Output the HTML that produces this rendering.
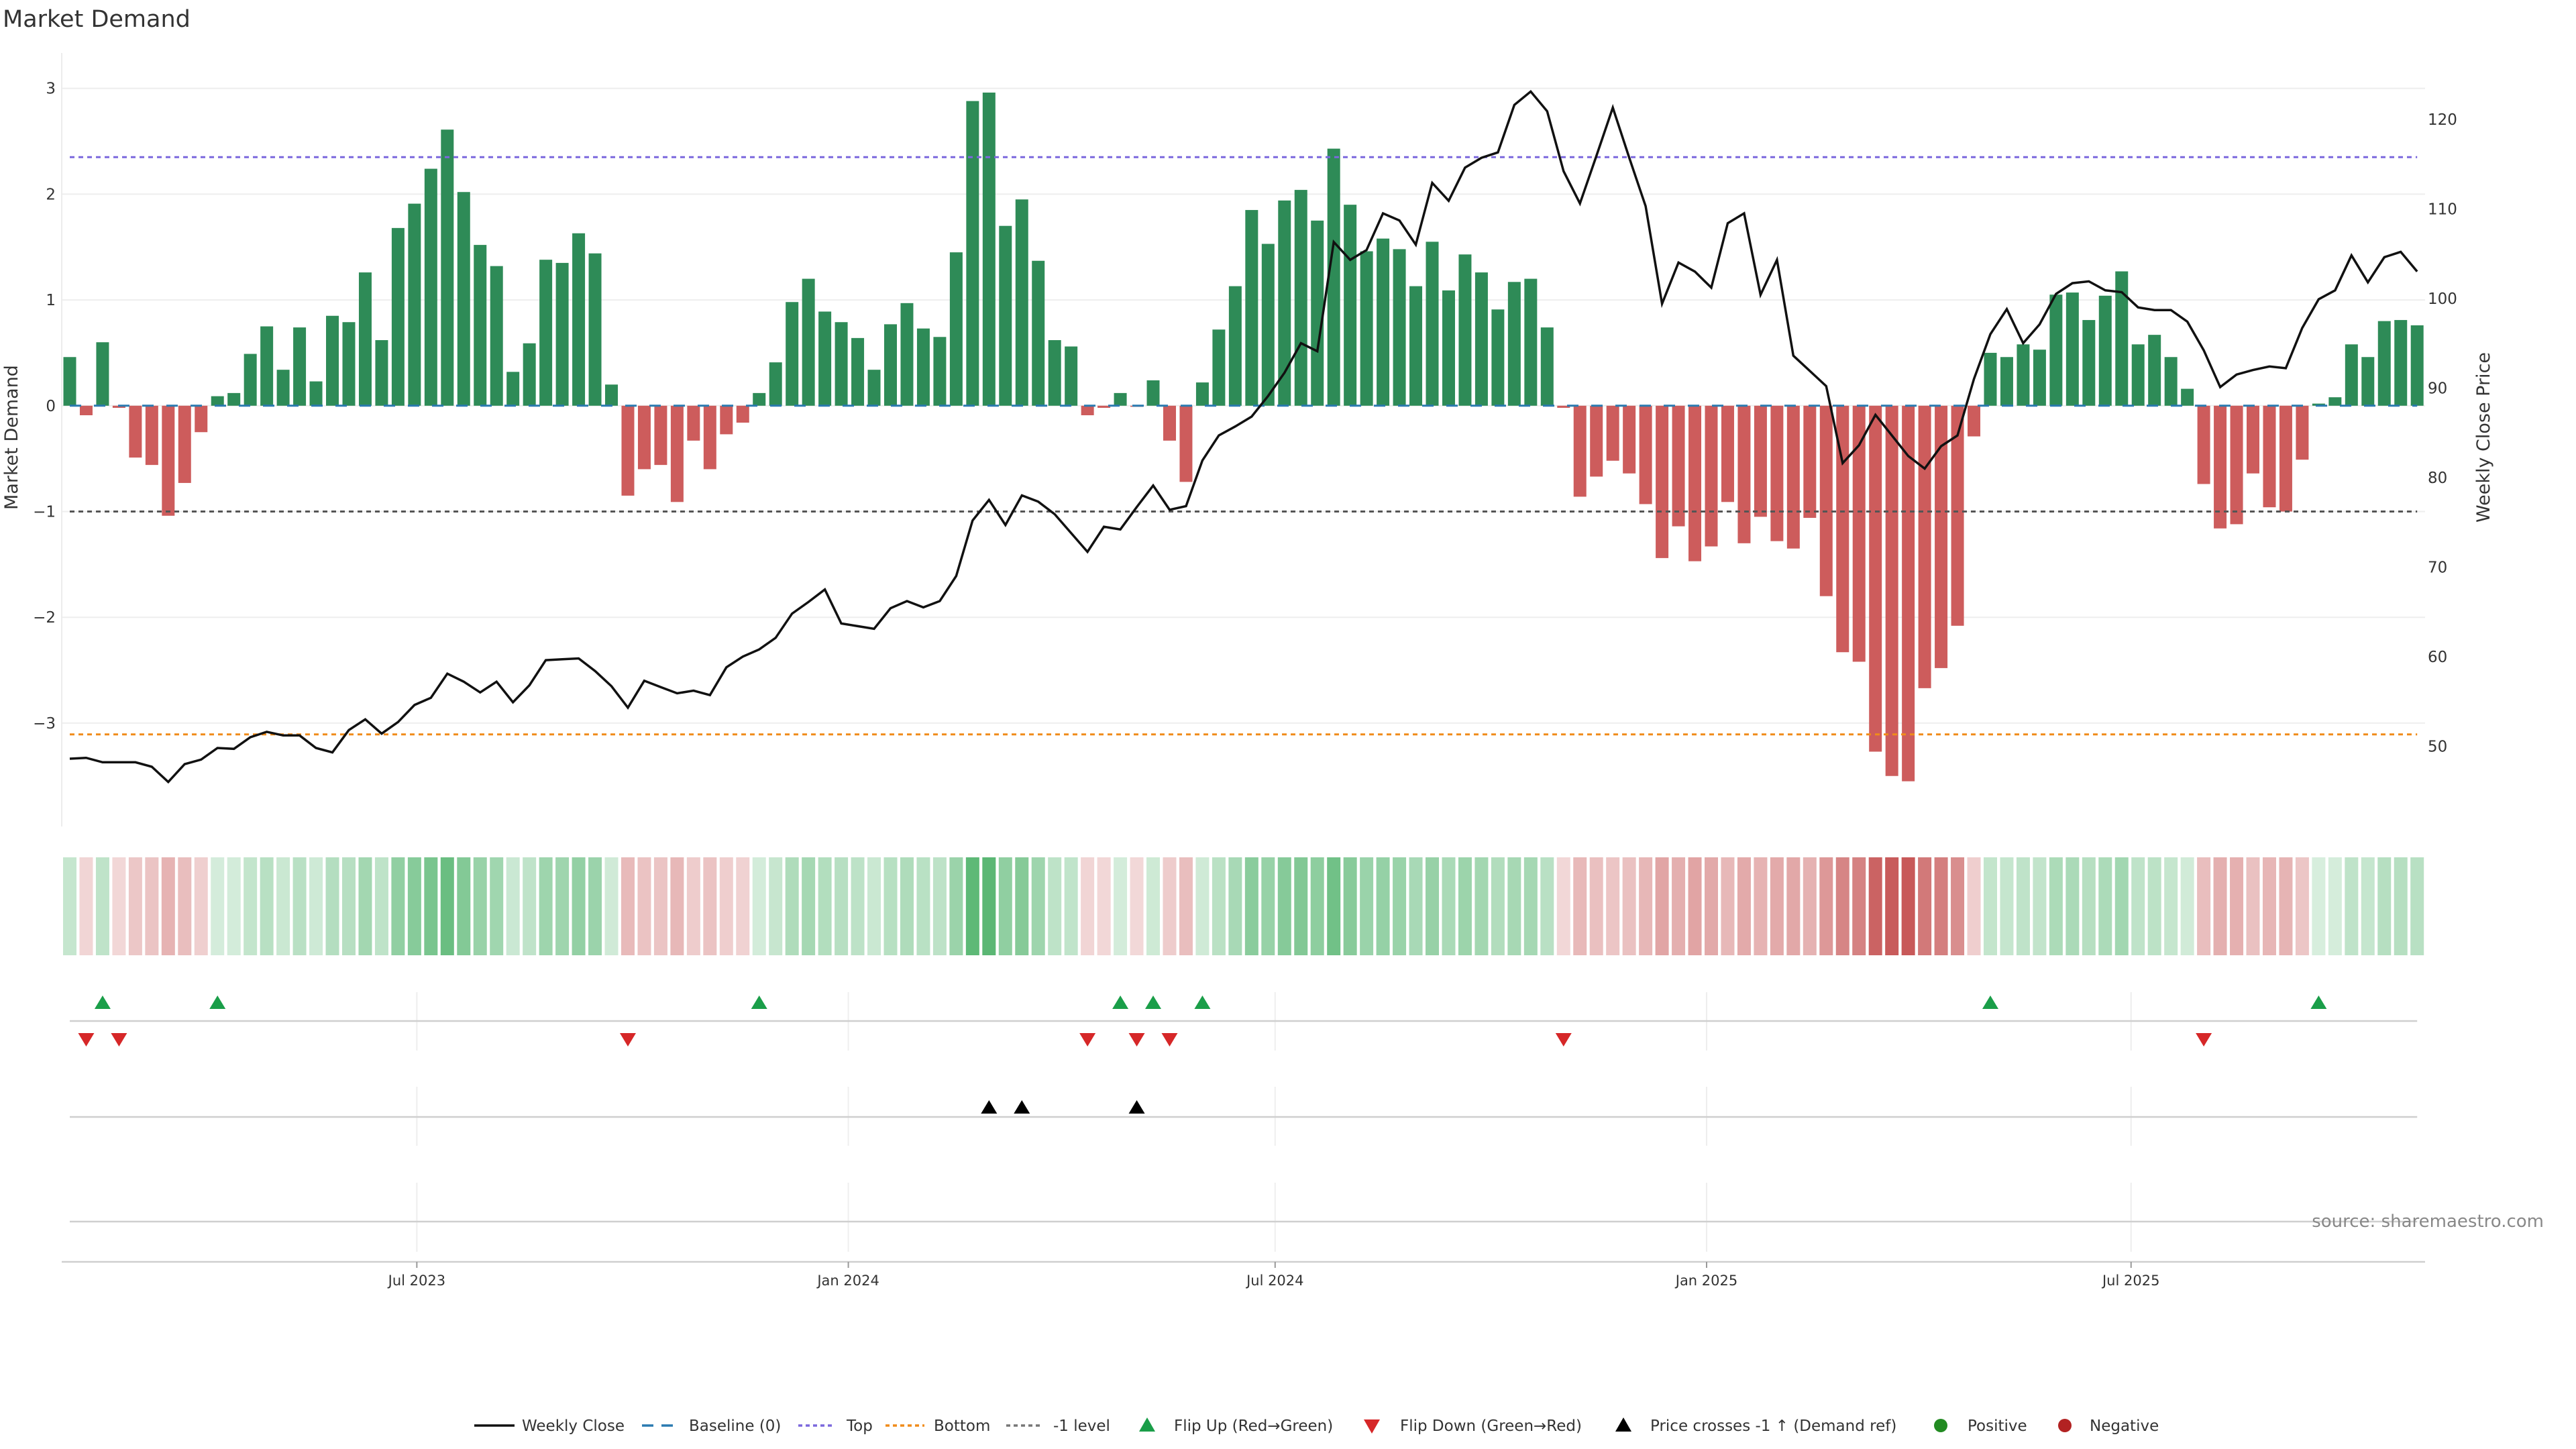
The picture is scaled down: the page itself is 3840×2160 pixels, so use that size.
<!DOCTYPE html>
<html><head><meta charset="utf-8"><title>Market Demand</title>
<style>
html,body{margin:0;padding:0;background:#fff;}
svg{display:block;font-family:"DejaVu Sans","Liberation Sans",sans-serif;}
</style></head>
<body>
<svg id="chart" xmlns="http://www.w3.org/2000/svg" width="3840" height="2160" viewBox="0 0 3840 2160">
<rect x="0" y="0" width="3840" height="2160" fill="#fff"/>
<text x="4" y="40" font-size="35" fill="#333">Market Demand</text>
<g id="grid"></g>
<line x1="92" y1="79" x2="92" y2="1232" stroke="#ececec" stroke-width="2"/>
<g id="bars"></g>
<g id="refs"></g>
<g id="price"></g>
<g id="heat"></g>
<g id="panels"></g>
<g id="axes"></g>
<text transform="translate(26,652) rotate(-90)" text-anchor="middle" font-size="27" fill="#333">Market Demand</text>
<text transform="translate(3711,652) rotate(-90)" text-anchor="middle" font-size="27" fill="#333">Weekly Close Price</text>
<text x="3792" y="1829" text-anchor="end" font-size="26" fill="#888">source: sharemaestro.com</text>
<g id="legend"></g>
</svg>
<script>
const demand = [0.46,-0.09,0.60,-0.02,-0.49,-0.56,-1.04,-0.73,-0.25,0.09,0.12,0.49,0.75,0.34,0.74,0.23,0.85,0.79,1.26,0.62,1.68,1.91,2.24,2.61,2.02,1.52,1.32,0.32,0.59,1.38,1.35,1.63,1.44,0.20,-0.85,-0.60,-0.56,-0.91,-0.33,-0.60,-0.27,-0.16,0.12,0.41,0.98,1.20,0.89,0.79,0.64,0.34,0.77,0.97,0.73,0.65,1.45,2.88,2.96,1.70,1.95,1.37,0.62,0.56,-0.09,-0.02,0.12,-0.01,0.24,-0.33,-0.72,0.22,0.72,1.13,1.85,1.53,1.94,2.04,1.75,2.43,1.90,1.46,1.58,1.48,1.13,1.55,1.09,1.43,1.26,0.91,1.17,1.20,0.74,-0.02,-0.86,-0.67,-0.52,-0.64,-0.93,-1.44,-1.14,-1.47,-1.33,-0.91,-1.30,-1.05,-1.28,-1.35,-1.06,-1.80,-2.33,-2.42,-3.27,-3.50,-3.55,-2.67,-2.48,-2.08,-0.29,0.50,0.46,0.58,0.53,1.05,1.07,0.81,1.04,1.27,0.58,0.67,0.46,0.16,-0.74,-1.16,-1.12,-0.64,-0.96,-1.00,-0.51,0.02,0.08,0.58,0.46,0.80,0.81,0.76];
const price = [48.6,48.7,48.2,48.2,48.2,47.7,46.0,48.0,48.5,49.8,49.7,51.0,51.6,51.2,51.2,49.8,49.3,51.8,53.0,51.4,52.7,54.6,55.4,58.1,57.2,56.0,57.2,54.9,56.8,59.6,59.7,59.8,58.4,56.7,54.3,57.3,56.6,55.9,56.2,55.7,58.8,60.0,60.8,62.1,64.8,66.1,67.5,63.7,63.4,63.1,65.4,66.2,65.5,66.2,69.0,75.2,77.5,74.7,78.0,77.3,75.9,73.8,71.7,74.5,74.2,76.7,79.1,76.4,76.8,81.9,84.7,85.7,86.8,89.1,91.7,95.0,94.1,106.3,104.3,105.4,109.5,108.7,106.0,112.9,110.9,114.6,115.7,116.3,121.6,123.1,120.9,114.2,110.6,115.9,121.3,115.7,110.3,99.4,104.0,103.0,101.2,108.4,109.5,100.4,104.3,93.6,91.9,90.2,81.6,83.6,87.0,84.7,82.4,81.0,83.5,84.7,91.0,96.0,98.8,95.0,97.1,100.5,101.7,101.9,100.9,100.7,99.0,98.7,98.7,97.4,94.2,90.1,91.5,92.0,92.4,92.2,96.7,99.9,100.9,104.8,101.8,104.6,105.2,103.0];
const leftTicks = [3,2,1,0,-1,-2,-3];
const leftTickLabels = ["3","2","1","0","\u22121","\u22122","\u22123"];
const rightTicks = [120,110,100,90,80,70,60,50];
const dateTicks = ["2023-07-01","2024-01-01","2024-07-01","2025-01-01","2025-07-01"];
const dateTickLabels = ["Jul 2023","Jan 2024","Jul 2024","Jan 2025","Jul 2025"];
const startDate = "2023-02-03";
const topLevel = 2.35, bottomLevel = -3.107, minusOneLevel = -1;

const NS = "http://www.w3.org/2000/svg";
function mk(tag, attrs, parent){const e=document.createElementNS(NS,tag);for(const k in attrs)e.setAttribute(k,attrs[k]);parent.appendChild(e);return e;}
const X0 = 104, STEP = 24.47;
const xi = i => X0 + i*STEP;
const DAY = STEP/7;
const xDate = d => X0 + (Date.parse(d) - Date.parse(startDate))/86400000*DAY;
const yL = v => 604.8 - v*157.7;
const yR = p => 444.8 + (100-p)*13.35;
const pFromY = y => 100 - (y-444.8)/13.35;

const grid = document.getElementById('grid');
const axes = document.getElementById('axes');
leftTicks.forEach((t,k)=>{
  const g = mk('line',{x1:92,x2:3615,y1:yL(t),y2:yL(t),stroke:'#eeeeee','stroke-width':2},grid);
  
  
  const tx = mk('text',{x:83,y:yL(t)+8,'text-anchor':'end','font-size':23,fill:'#333'},axes);
  tx.textContent = leftTickLabels[k];
  
  
});
rightTicks.forEach(t=>{
  const tx = mk('text',{x:3619,y:yR(t)+8,'font-size':23,fill:'#333'},axes);
  tx.textContent = String(t);
  
  
});

const bars = document.getElementById('bars');
demand.forEach((v,i)=>{
  const y0 = yL(0), y1 = yL(v);
  const r = mk('rect',{x:xi(i)-9.5,y:Math.min(y0,y1),width:19,height:Math.max(Math.abs(y1-y0),1),fill:v>=0?'#2e8b57':'#cd5c5c'},bars);
  
  
});

const refs = document.getElementById('refs');
const xa = xi(0), xb = xi(demand.length-1);
let l;
l = mk('line',{x1:xa,x2:xb,y1:yL(0),y2:yL(0),stroke:'#2a7ab0','stroke-width':3,'stroke-dasharray':'17,19'},refs);
 
l = mk('line',{x1:xa,x2:xb,y1:yL(topLevel),y2:yL(topLevel),stroke:'#7b68dd','stroke-width':3,'stroke-dasharray':'7,6'},refs);
 
l = mk('line',{x1:xa,x2:xb,y1:yL(bottomLevel),y2:yL(bottomLevel),stroke:'#f08c1a','stroke-width':3,'stroke-dasharray':'7,6'},refs);
 
l = mk('line',{x1:xa,x2:xb,y1:yL(minusOneLevel),y2:yL(minusOneLevel),stroke:'#555','stroke-width':3,'stroke-dasharray':'7,6'},refs);
 

const pg = document.getElementById('price');
const pl = mk('polyline',{points:price.map((p,i)=>xi(i).toFixed(1)+','+yR(p).toFixed(1)).join(' '),fill:'none',stroke:'#111','stroke-width':3.5,'stroke-linejoin':'miter'},pg);



const heat = document.getElementById('heat');
demand.forEach((v,i)=>{
  let c;
  if(v>=0){const a=0.2+0.65*Math.min(v/3,1);c=[60,170,90].map(b=>Math.round(255+(b-255)*a));}
  else{const a=0.2+0.65*Math.min(-v/3.55,1);c=[190,60,60].map(b=>Math.round(255+(b-255)*a));}
  const r = mk('rect',{x:xi(i)-10,y:1278,width:20,height:146,fill:'rgb('+c.join(',')+')'},heat);
  
  
});

const panels = document.getElementById('panels');
[[1479,1566],[1620,1708],[1763,1866]].forEach(([a,b])=>{
  dateTicks.forEach(d=>{
    const g = mk('line',{x1:xDate(d),x2:xDate(d),y1:a,y2:b,stroke:'#eeeeee','stroke-width':2},panels);
    
    
  });
});
[1522,1665,1821].forEach(y=>{
  const g = mk('line',{x1:xa,x2:xb,y1:y,y2:y,stroke:'#cfcfcf','stroke-width':2.5},panels);
  
  
});
function tri(x,y,up,color,name){
  const h=20,w=12;
  const pts = up ? [[x-w,y+h/2],[x+w,y+h/2],[x,y-h/2]] : [[x-w,y-h/2],[x+w,y-h/2],[x,y+h/2]];
  const t = mk('polygon',{points:pts.map(p=>p.join(',')).join(' '),fill:color},panels);
  
  
}
const crossLevel = pFromY(yL(minusOneLevel));
for(let i=1;i<demand.length;i++){
  if(demand[i-1]<0 && demand[i]>=0) tri(xi(i),1494,true,'#1a9e49','flip-up-marker');
  if(demand[i-1]>=0 && demand[i]<0) tri(xi(i),1550,false,'#d62728','flip-down-marker');
  if(price[i-1]<crossLevel && price[i]>=crossLevel) tri(xi(i),1650,true,'#000','price-cross-marker');
}

const xl = mk('line',{x1:92,x2:3615,y1:1881,y2:1881,stroke:'#cfcfcf','stroke-width':2.5},axes);
 
dateTicks.forEach((d,k)=>{
  const t = mk('line',{x1:xDate(d),x2:xDate(d),y1:1881,y2:1890,stroke:'#999','stroke-width':2},axes);
   
  const tx = mk('text',{x:xDate(d),y:1916,'text-anchor':'middle','font-size':21,fill:'#333'},axes);
  tx.textContent = dateTickLabels[k];
   
});

const lg = document.getElementById('legend');
const LY = 2125;
function ltext(x,s){const t=mk('text',{x:x,y:LY+8,'font-size':23,fill:'#333'},lg);t.textContent=s;}
let e;
e=mk('line',{x1:707,x2:767,y1:LY,y2:LY,stroke:'#111','stroke-width':3.5},lg);  
ltext(778,'Weekly Close');
e=mk('line',{x1:957,x2:1005,y1:LY,y2:LY,stroke:'#2a7ab0','stroke-width':3.5,'stroke-dasharray':'17,12'},lg);  
ltext(1027,'Baseline (0)');
e=mk('line',{x1:1190,x2:1245,y1:LY,y2:LY,stroke:'#7b68dd','stroke-width':3.5,'stroke-dasharray':'6,5'},lg);  
ltext(1262,'Top');
e=mk('line',{x1:1320,x2:1378,y1:LY,y2:LY,stroke:'#f08c1a','stroke-width':3.5,'stroke-dasharray':'6,5'},lg);  
ltext(1392,'Bottom');
e=mk('line',{x1:1500,x2:1555,y1:LY,y2:LY,stroke:'#777','stroke-width':3.5,'stroke-dasharray':'6,5'},lg);  
ltext(1570,'-1 level');
e=mk('polygon',{points:`1698,${LY+9} 1722,${LY+9} 1710,${LY-12}`,fill:'#1a9e49'},lg);  
ltext(1750,'Flip Up (Red\u2192Green)');
e=mk('polygon',{points:`2033,${LY-9} 2057,${LY-9} 2045,${LY+12}`,fill:'#d62728'},lg);  
ltext(2087,'Flip Down (Green\u2192Red)');
e=mk('polygon',{points:`2408,${LY+9} 2432,${LY+9} 2420,${LY-12}`,fill:'#000'},lg);  
ltext(2460,'Price crosses -1 \u2191 (Demand ref)');
e=mk('circle',{cx:2893,cy:LY,r:10,fill:'#228b22'},lg);  
ltext(2933,'Positive');
e=mk('circle',{cx:3078,cy:LY,r:10,fill:'#b22222'},lg);  
ltext(3115,'Negative');
</script>
</body></html>
